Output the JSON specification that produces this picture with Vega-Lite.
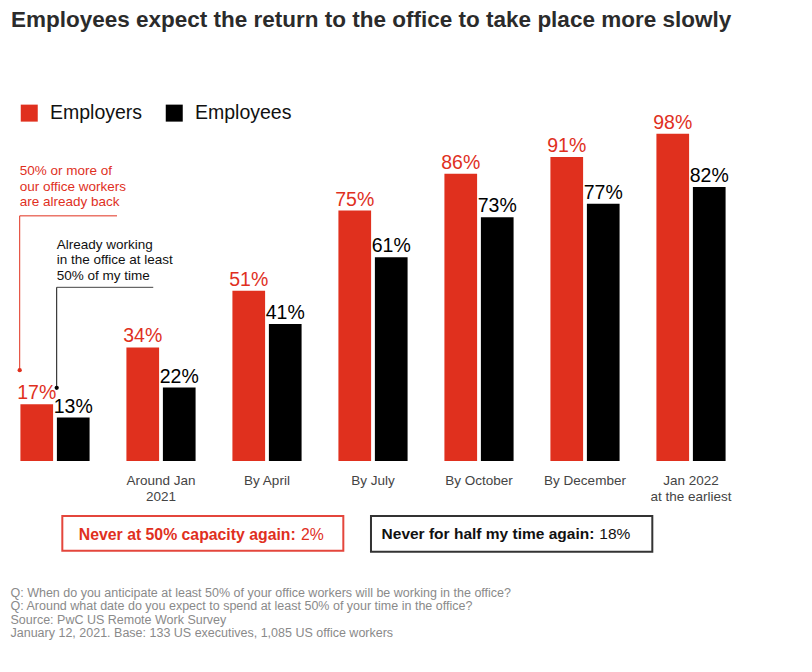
{
  "$schema": "https://vega.github.io/schema/vega-lite/v6.json",
  "autosize": {"type": "none"},
  "padding": {"left": 2, "top": 127, "right": 68, "bottom": 211},
  "width": 742,
  "height": 334,
  "background": "white",
  "config": {
    "view": {"stroke": null},
    "font": "Liberation Sans",
    "text": {"font": "Liberation Sans"}
  },
  "title": {
    "text": "Employees expect the return to the office to take place more slowly",
    "anchor": "start",
    "frame": "group",
    "fontSize": 22.5,
    "fontWeight": "bold",
    "color": "#2b2b2b",
    "font": "Liberation Sans",
    "dx": 9,
    "offset": 72
  },
  "resolve": {"scale": {"x": "independent"}},
  "layer": [
    {
      "data": {
        "values": [
          {"period": "Already", "group": "Employers", "value": 17},
          {"period": "Already", "group": "Employees", "value": 13},
          {"period": "Around Jan|2021", "group": "Employers", "value": 34},
          {"period": "Around Jan|2021", "group": "Employees", "value": 22},
          {"period": "By April", "group": "Employers", "value": 51},
          {"period": "By April", "group": "Employees", "value": 41},
          {"period": "By July", "group": "Employers", "value": 75},
          {"period": "By July", "group": "Employees", "value": 61},
          {"period": "By October", "group": "Employers", "value": 86},
          {"period": "By October", "group": "Employees", "value": 73},
          {"period": "By December", "group": "Employers", "value": 91},
          {"period": "By December", "group": "Employees", "value": 77},
          {"period": "Jan 2022|at the earliest", "group": "Employers", "value": 98},
          {"period": "Jan 2022|at the earliest", "group": "Employees", "value": 82}
        ]
      },
      "transform": [{"calculate": "datum.value + '%'", "as": "label"}],
      "encoding": {
        "x": {
          "field": "period",
          "type": "nominal",
          "sort": ["Already", "Around Jan|2021", "By April", "By July", "By October", "By December", "Jan 2022|at the earliest"],
          "scale": {"paddingInner": 0.3475, "paddingOuter": 0.17375},
          "axis": {
            "domain": false,
            "ticks": false,
            "labelAngle": 0,
            "labelPadding": 12,
            "labelFontSize": 13.5,
            "labelLineHeight": 16,
            "labelColor": "#444",
            "labelFont": "Liberation Sans",
            "labelExpr": "datum.value == 'Already' ? '' : split(datum.value, '|')",
            "title": [
              "Q: When do you anticipate at least 50% of your office workers will be working in the office?",
              "Q: Around what date do you expect to spend at least 50% of your time in the office?",
              "Source: PwC US Remote Work Survey",
              "January 12, 2021. Base: 133 US executives, 1,085 US office workers"
            ],
            "titleX": 8,
            "titleY": 135,
            "titleAlign": "left",
            "titleAnchor": "start",
            "titleBaseline": "alphabetic",
            "titleFontSize": 12.5,
            "titleFontWeight": "normal",
            "titleColor": "#8a8a8a",
            "titleLineHeight": 13.5,
            "titleFont": "Liberation Sans"
          }
        },
        "xOffset": {
          "field": "group",
          "type": "nominal",
          "sort": ["Employers", "Employees"],
          "scale": {"paddingInner": 0.104, "paddingOuter": 0}
        },
        "y": {
          "field": "value",
          "type": "quantitative",
          "scale": {"domain": [0, 100], "nice": false},
          "axis": null
        },
        "color": {
          "field": "group",
          "type": "nominal",
          "scale": {"domain": ["Employers", "Employees"], "range": ["#e0301e", "#000000"]},
          "legend": {
            "title": null,
            "orient": "none",
            "legendX": 17.5,
            "legendY": -24,
            "direction": "horizontal",
            "symbolType": "square",
            "symbolSize": 289,
            "symbolStrokeWidth": 0,
            "labelFontSize": 19.5,
            "labelColor": "#111111",
            "labelFont": "Liberation Sans",
            "labelOffset": 11,
            "columnPadding": 22
          }
        }
      },
      "layer": [
        {"mark": {"type": "bar"}},
        {
          "mark": {"type": "text", "baseline": "alphabetic", "dy": -5, "fontSize": 19.5, "font": "Liberation Sans"},
          "encoding": {"text": {"field": "label", "type": "nominal"}}
        }
      ]
    },
    {
      "data": {"values": [{}]},
      "layer": [
        {
          "mark": {"type": "text", "text": ["50% or more of", "our office workers", "are already back"], "align": "left", "baseline": "alphabetic", "fontSize": 13.5, "lineHeight": 15.5, "color": "#e0301e"},
          "encoding": {
            "x": {"datum": 0.167, "type": "quantitative", "scale": {"domain": [0, 7], "nice": false, "zero": false}, "axis": null},
            "y": {"datum": 85.6, "type": "quantitative", "scale": {"domain": [0, 100], "nice": false}, "axis": null}
          }
        },
        {
          "mark": {"type": "rule", "color": "#e0301e", "strokeWidth": 1},
          "encoding": {
            "x": {"datum": 0.167, "type": "quantitative"},
            "x2": {"datum": 1.085},
            "y": {"datum": 73.4, "type": "quantitative"}
          }
        },
        {
          "mark": {"type": "rule", "color": "#e0301e", "strokeWidth": 1},
          "encoding": {
            "x": {"datum": 0.167, "type": "quantitative"},
            "y": {"datum": 73.4, "type": "quantitative"},
            "y2": {"datum": 27.2}
          }
        },
        {
          "mark": {"type": "point", "filled": true, "size": 18, "color": "#e0301e", "opacity": 1},
          "encoding": {
            "x": {"datum": 0.167, "type": "quantitative"},
            "y": {"datum": 27.2, "type": "quantitative"}
          }
        },
        {
          "mark": {"type": "text", "text": ["Already working", "in the office at least", "50% of my time"], "align": "left", "baseline": "alphabetic", "fontSize": 13.5, "lineHeight": 15.7, "color": "#111111"},
          "encoding": {
            "x": {"datum": 0.516, "type": "quantitative"},
            "y": {"datum": 63.6, "type": "quantitative"}
          }
        },
        {
          "mark": {"type": "rule", "color": "#444444", "strokeWidth": 1},
          "encoding": {
            "x": {"datum": 0.516, "type": "quantitative"},
            "x2": {"datum": 1.427},
            "y": {"datum": 52.0, "type": "quantitative"}
          }
        },
        {
          "mark": {"type": "rule", "color": "#111111", "strokeWidth": 1},
          "encoding": {
            "x": {"datum": 0.516, "type": "quantitative"},
            "y": {"datum": 52.0, "type": "quantitative"},
            "y2": {"datum": 21.9}
          }
        },
        {
          "mark": {"type": "point", "filled": true, "size": 18, "color": "#000000", "opacity": 1},
          "encoding": {
            "x": {"datum": 0.516, "type": "quantitative"},
            "y": {"datum": 21.9, "type": "quantitative"}
          }
        },
        {
          "mark": {"type": "rect", "fill": "white", "stroke": "#e4463c", "strokeWidth": 2},
          "encoding": {
            "x": {"datum": 0.569, "type": "quantitative"},
            "x2": {"datum": 3.22},
            "y": {"datum": -16.5, "type": "quantitative"},
            "y2": {"datum": -26.9}
          }
        },
        {
          "mark": {"type": "rect", "fill": "white", "stroke": "#333333", "strokeWidth": 2},
          "encoding": {
            "x": {"datum": 3.481, "type": "quantitative"},
            "x2": {"datum": 6.135},
            "y": {"datum": -16.5, "type": "quantitative"},
            "y2": {"datum": -27.2}
          }
        },
        {
          "mark": {"type": "text", "text": "Never at 50% capacity again:", "align": "right", "baseline": "alphabetic", "fontSize": 15.8, "fontWeight": "bold", "color": "#e0301e"},
          "encoding": {
            "x": {"datum": 2.771, "type": "quantitative"},
            "y": {"datum": -23.7, "type": "quantitative"}
          }
        },
        {
          "mark": {"type": "text", "text": "2%", "align": "left", "baseline": "alphabetic", "fontSize": 15.8, "color": "#e0301e"},
          "encoding": {
            "x": {"datum": 2.821, "type": "quantitative"},
            "y": {"datum": -23.7, "type": "quantitative"}
          }
        },
        {
          "mark": {"type": "text", "text": "Never for half my time again:", "align": "right", "baseline": "alphabetic", "fontSize": 15.5, "fontWeight": "bold", "color": "#111111"},
          "encoding": {
            "x": {"datum": 5.588, "type": "quantitative"},
            "y": {"datum": -23.4, "type": "quantitative"}
          }
        },
        {
          "mark": {"type": "text", "text": "18%", "align": "left", "baseline": "alphabetic", "fontSize": 15.5, "color": "#111111"},
          "encoding": {
            "x": {"datum": 5.635, "type": "quantitative"},
            "y": {"datum": -23.4, "type": "quantitative"}
          }
        }
      ]
    }
  ]
}
